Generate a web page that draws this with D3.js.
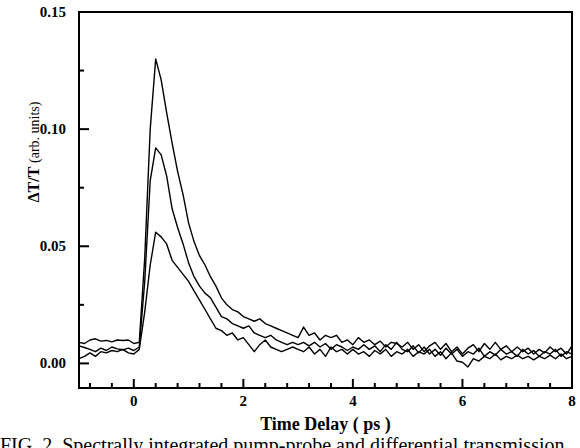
<!DOCTYPE html>
<html>
<head>
<meta charset="utf-8">
<script src="https://cdn.jsdelivr.net/npm/d3@7"></script>
<style>
    body { margin: 0; background: #fff; }
    svg { display: block; }
    .frame { fill: none; stroke: #000; stroke-width: 2; }
    .trace { fill: none; stroke: #000; stroke-width: 1.4; stroke-linejoin: round; }
    .tick-mark { stroke: #000; stroke-width: 2; }
</style>
</head>
<body>
<div id="chart"></div>
<script>
// time grid (ps)
let timeDelay = [
    -1.0, -0.9, -0.8, -0.7, -0.6, -0.5, -0.4, -0.3, -0.2, -0.1, 0.0,
    0.1, 0.2, 0.3, 0.4, 0.5, 0.6, 0.7, 0.8, 0.9, 1.0,
    1.1, 1.2, 1.3, 1.4, 1.5, 1.6, 1.7, 1.8, 1.9, 2.0,
    2.1, 2.2, 2.3, 2.4, 2.5, 2.6, 2.7, 2.8, 2.9, 3.0,
    3.1, 3.2, 3.3, 3.4, 3.5, 3.6, 3.7, 3.8, 3.9, 4.0,
    4.1, 4.2, 4.3, 4.4, 4.5, 4.6, 4.7, 4.8, 4.9, 5.0,
    5.1, 5.2, 5.3, 5.4, 5.5, 5.6, 5.7, 5.8, 5.9, 6.0,
    6.1, 6.2, 6.3, 6.4, 6.5, 6.6, 6.7, 6.8, 6.9, 7.0,
    7.1, 7.2, 7.3, 7.4, 7.5, 7.6, 7.7, 7.8, 7.9, 8.0
];

// highest peak trace
let traceHigh = [
    0.0090, 0.0085, 0.0100, 0.0105, 0.0095, 0.0098, 0.0092, 0.0100, 0.0098, 0.0100, 0.0085,
    0.0090, 0.0450, 0.1000, 0.1300, 0.1210, 0.1070, 0.0940, 0.0820, 0.0720, 0.0600,
    0.0520, 0.0460, 0.0420, 0.0370, 0.0330, 0.0280, 0.0250, 0.0230, 0.0220, 0.0200,
    0.0190, 0.0180, 0.0190, 0.0170, 0.0160, 0.0150, 0.0140, 0.0130, 0.0120, 0.0110,
    0.0155, 0.0120, 0.0130, 0.0100, 0.0120, 0.0110, 0.0120, 0.0090, 0.0100, 0.0080,
    0.0110, 0.0090, 0.0100, 0.0080, 0.0095, 0.0070, 0.0090, 0.0085, 0.0070, 0.0090,
    0.0060, 0.0080, 0.0050, 0.0075, 0.0090, 0.0060, 0.0085, 0.0050, 0.0070, 0.0040,
    0.0065, 0.0080, 0.0050, 0.0085, 0.0060, 0.0090, 0.0060, 0.0075, 0.0050, 0.0070,
    0.0050, 0.0065, 0.0040, 0.0060, 0.0045, 0.0070, 0.0050, 0.0065, 0.0040, 0.0075
];

// middle peak trace
let traceMid = [
    0.0075, 0.0068, 0.0060, 0.0050, 0.0065, 0.0055, 0.0070, 0.0062, 0.0058, 0.0065, 0.0055,
    0.0070, 0.0350, 0.0780, 0.0920, 0.0890, 0.0800, 0.0660, 0.0580, 0.0510, 0.0430,
    0.0370, 0.0330, 0.0300, 0.0280, 0.0240, 0.0200, 0.0190, 0.0170, 0.0160, 0.0150,
    0.0160, 0.0130, 0.0120, 0.0110, 0.0120, 0.0100, 0.0090, 0.0080, 0.0090, 0.0080,
    0.0090, 0.0075, 0.0090, 0.0070, 0.0085, 0.0060, 0.0080, 0.0070, 0.0055, 0.0070,
    0.0060, 0.0080, 0.0060, 0.0075, 0.0050, 0.0080, 0.0060, 0.0090, 0.0060, 0.0050,
    0.0075, 0.0045, 0.0070, 0.0040, 0.0060, 0.0035, 0.0065, 0.0040, 0.0060, 0.0030,
    0.0050, 0.0040, 0.0065, 0.0030, 0.0050, 0.0035, 0.0060, 0.0040, 0.0050, 0.0030,
    0.0060, 0.0040, 0.0055, 0.0030, 0.0050, 0.0040, 0.0060, 0.0030, 0.0050, 0.0040
];

// lowest peak trace
let traceLow = [
    0.0020, 0.0030, 0.0045, 0.0030, 0.0050, 0.0045, 0.0055, 0.0050, 0.0060, 0.0045, 0.0040,
    0.0060, 0.0220, 0.0420, 0.0560, 0.0540, 0.0510, 0.0440, 0.0410, 0.0380, 0.0350,
    0.0310, 0.0270, 0.0230, 0.0190, 0.0150, 0.0140, 0.0120, 0.0130, 0.0100, 0.0110,
    0.0080, 0.0050, 0.0080, 0.0100, 0.0070, 0.0060, 0.0050, 0.0060, 0.0070, 0.0060,
    0.0050, 0.0070, 0.0040, 0.0060, 0.0030, 0.0070, 0.0050, 0.0060, 0.0040, 0.0060,
    0.0040, 0.0050, 0.0030, 0.0055, 0.0040, 0.0060, 0.0030, 0.0050, 0.0040, 0.0060,
    0.0030, 0.0050, 0.0040, 0.0060, 0.0030, 0.0050, 0.0020, 0.0045, 0.0010, 0.0005,
    -0.0015, 0.0020, 0.0010, 0.0030, 0.0020, 0.0040, 0.0015, 0.0030, 0.0020, 0.0035,
    0.0020, 0.0030, 0.0015, 0.0030, 0.0020, 0.0035, 0.0020, 0.0040, 0.0020, 0.0030
];

let xTicks = [0, 2, 4, 6, 8];
let xMinorTicks = [-0.8, -0.4, 0.4, 0.8, 1.2, 1.6, 2.4, 2.8, 3.2, 3.6, 4.4, 4.8, 5.2, 5.6, 6.4, 6.8, 7.2, 7.6];
let yTicks = [0.00, 0.05, 0.10, 0.15];
let yMinorTicks = [0.025, 0.075, 0.125];

let serif = "'Liberation Serif', 'Times New Roman', serif";

let width = 580, height = 448;
let margin = {top: 12, right: 8, bottom: 60, left: 79};
let w = width - margin.left - margin.right;
let h = height - margin.top - margin.bottom;

let svg = d3.select("#chart").append("svg")
    .attr("width", width)
    .attr("height", height);

let g = svg.append("g")
    .attr("transform", `translate(${margin.left}, ${margin.top})`);

let x = d3.scaleLinear().domain([-1, 8]).range([0, w]);
let y = d3.scaleLinear().domain([-0.0105, 0.15]).range([h, 0]);

// traces
let line = d3.line()
    .x((d, i) => x(timeDelay[i]))
    .y(d => y(d));

[traceHigh, traceMid, traceLow].forEach(trace => {
    g.append("path")
        .attr("class", "trace")
        .attr("d", line(trace));
});

// ticks point inward, drawn as short paths from the scales
let tickPath = (x1, y1, x2, y2) => `M${x1},${y1}L${x2},${y2}`;

xTicks.filter(d => d > -1 && d < 8).forEach(d => {
    g.append("path").attr("class", "tick-mark").attr("d", tickPath(x(d), h, x(d), h - 9));
});
xMinorTicks.forEach(d => {
    g.append("path").attr("class", "tick-mark").attr("d", tickPath(x(d), h, x(d), h - 5));
});
yTicks.filter(d => d < 0.15).forEach(d => {
    g.append("path").attr("class", "tick-mark").attr("d", tickPath(0, y(d), 10, y(d)));
});
yMinorTicks.forEach(d => {
    g.append("path").attr("class", "tick-mark").attr("d", tickPath(0, y(d), 5, y(d)));
});

// tick labels
g.selectAll(".xlab").data(xTicks).enter().append("text")
    .attr("x", d => x(d))
    .attr("y", h + 18)
    .attr("text-anchor", "middle")
    .style("font-family", serif)
    .style("font-weight", "bold")
    .style("font-size", "15px")
    .text(d3.format("d"));

g.selectAll(".ylab").data(yTicks).enter().append("text")
    .attr("x", -13)
    .attr("y", d => y(d))
    .attr("dy", "0.32em")
    .attr("text-anchor", "end")
    .style("font-family", serif)
    .style("font-weight", "bold")
    .style("font-size", "15px")
    .text(d3.format(".2f"));

// frame
g.append("rect")
    .attr("class", "frame")
    .attr("width", w)
    .attr("height", h);

// axis titles
svg.append("text")
    .attr("x", margin.left + w / 2)
    .attr("y", 430)
    .attr("text-anchor", "middle")
    .style("font-family", serif)
    .style("font-weight", "bold")
    .style("font-size", "18px")
    .text("Time Delay ( ps )");

let yTitle = svg.append("text")
    .attr("transform", "translate(39, 152) rotate(-90)")
    .attr("text-anchor", "middle")
    .style("font-family", serif);
yTitle.append("tspan")
    .style("font-weight", "bold")
    .style("font-size", "16px")
    .text("ΔT/T ");
yTitle.append("tspan")
    .style("font-size", "14px")
    .text("(arb. units)");

// caption, cut by the page edge
svg.append("text")
    .attr("x", 0)
    .attr("y", 452)
    .style("font-family", serif)
    .style("font-size", "20px")
    .text("FIG. 2.  Spectrally integrated pump-probe and differential transmission");
</script>
</body>
</html>
